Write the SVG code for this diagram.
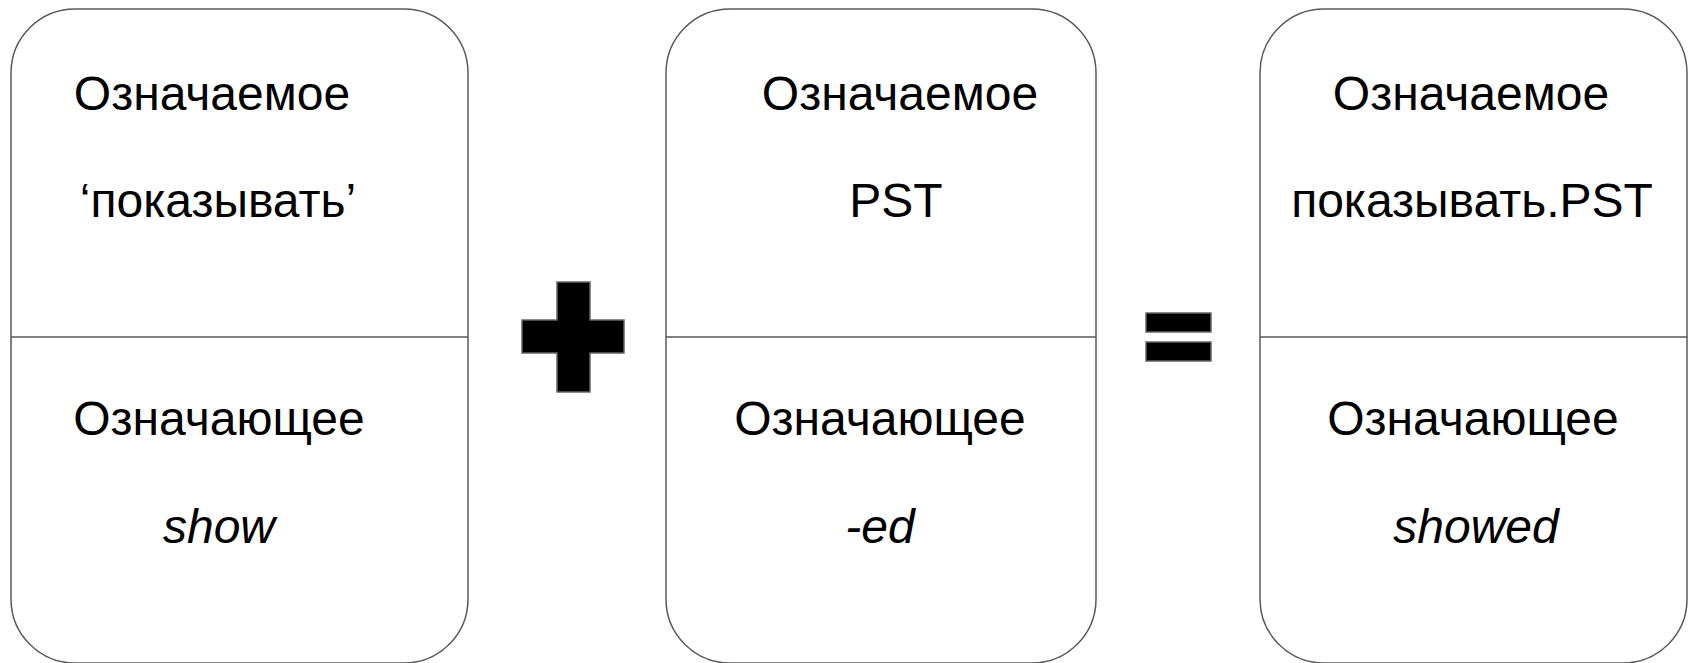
<svg xmlns="http://www.w3.org/2000/svg" width="1692" height="663" viewBox="0 0 1692 663">
<style>
.box{fill:#ffffff;stroke:#595959;stroke-width:1.5}
.div{stroke:#595959;stroke-width:1.5}
.sym{fill:#000000;stroke:#666666;stroke-width:1.5}
text{font-family:"Liberation Sans",Arial,sans-serif;font-size:48px;fill:#000000;text-anchor:middle}
.it{font-style:italic}
</style>
<rect width="1692" height="663" fill="#ffffff"/>
<g id="node-show">
<rect class="box" x="11" y="9" width="457" height="654" rx="64" ry="64"/>
<line class="div" x1="11" y1="337" x2="468" y2="337"/>
<text x="212" y="110">Означаемое</text>
<text x="218" y="217">‘показывать’</text>
<text x="219" y="435">Означающее</text>
<text x="219" y="543" class="it">show</text>
</g>
<g id="node-plus">
<polygon class="sym" points="557,282 590,282 590,320 624,320 624,353 590,353 590,392 557,392 557,353 522,353 522,320 557,320"/>
</g>
<g id="node-ed">
<rect class="box" x="666" y="9" width="430" height="654" rx="64" ry="64"/>
<line class="div" x1="666" y1="337" x2="1096" y2="337"/>
<text x="900" y="110">Означаемое</text>
<text x="896" y="217">PST</text>
<text x="880" y="435">Означающее</text>
<text x="880" y="543" class="it">-ed</text>
</g>
<g id="node-equals">
<rect class="sym" x="1146" y="313" width="65" height="19"/>
<rect class="sym" x="1146" y="342" width="65" height="19"/>
</g>
<g id="node-showed">
<rect class="box" x="1260" y="9" width="427" height="654" rx="64" ry="64"/>
<line class="div" x1="1260" y1="337" x2="1687" y2="337"/>
<text x="1471" y="110">Означаемое</text>
<text x="1472" y="217">показывать.PST</text>
<text x="1473" y="435">Означающее</text>
<text x="1476" y="543" class="it">showed</text>
</g>
<g id="connectors"/>
</svg>
